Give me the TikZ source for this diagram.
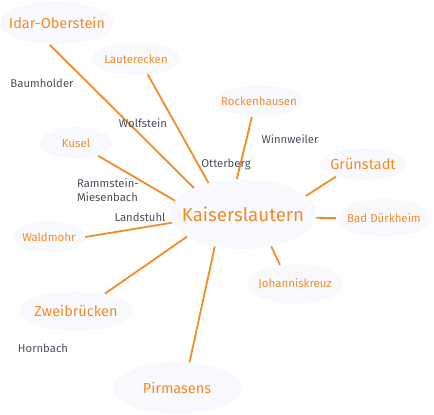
\documentclass[tikz,border=0pt]{standalone}
\usepackage{fontspec}
\setmainfont{Fira Sans}
\usetikzlibrary{shapes.geometric}
\definecolor{townorange}{RGB}{242,140,40}
\definecolor{bubble}{RGB}{247,249,252}
\definecolor{placegray}{RGB}{74,80,92}

\begin{document}
\begin{tikzpicture}[x=1pt, y=-1pt,
    town/.style={ellipse, fill=bubble, inner sep=0pt},
    hugetxt/.style={text=townorange, font=\fontsize{18.7}{22}\selectfont},
    bigtxt/.style={text=townorange, font=\fontsize{14.5}{17}\selectfont},
    smalltxt/.style={text=townorange, font=\fontsize{11.5}{14}\selectfont},
    place/.style={text=placegray, font=\fontsize{11.3}{14}\selectfont, inner sep=0pt},
    link/.style={townorange, line width=1.8pt}]
  \useasboundingbox (0,0) rectangle (434,415);
  % towns
  \node[town, minimum width=146pt, minimum height=70pt, label={[hugetxt]center:Kaiserslautern}] (ks) at (243,214) {};
  \node[town, minimum width=114pt, minimum height=44pt, label={[bigtxt]center:Idar-Oberstein}] (io) at (57,23) {};
  \node[town, minimum width=88pt, minimum height=32pt, label={[smalltxt]center:Lauterecken}] (lau) at (136,59) {};
  \node[town, minimum width=88pt, minimum height=32pt, label={[smalltxt]center:Rockenhausen}] (rock) at (259,101) {};
  \node[town, minimum width=86pt, minimum height=32pt, label={[bigtxt]center:Grünstadt}] (gru) at (363,164) {};
  \node[town, minimum width=96pt, minimum height=38pt, label={[smalltxt]center:Bad Dürkheim}] (bad) at (384,218) {};
  \node[town, minimum width=72pt, minimum height=32pt, label={[smalltxt]center:Kusel}] (kus) at (76,143) {};
  \node[town, minimum width=72pt, minimum height=32pt, label={[smalltxt]center:Waldmohr}] (wal) at (49,237) {};
  \node[town, minimum width=114pt, minimum height=40pt, label={[bigtxt]center:Zweibrücken}] (zwei) at (76,311) {};
  \node[town, minimum width=128pt, minimum height=52pt, label={[bigtxt]center:Pirmasens}] (pir) at (177,388) {};
  \node[town, minimum width=96pt, minimum height=40pt, label={[smalltxt]center:Johanniskreuz}] (joh) at (295,284) {};
  % connectors: angle at Kaiserslautern / angle at the other town
  \foreach \t/\a/\b in {io/152/252, lau/138/307, rock/100/246, gru/16/205, bad/-3/180,
                        kus/169/330, wal/187/0, zwei/202/31, pir/229/64, joh/311/128}
    \draw[link] (ks.\a) -- (\t.\b);
  % smaller places
  \node[place] (baum) at (42,83) {Baumholder};
  \node[place] (wolf) at (143,123) {Wolfstein};
  \node[place] (otter) at (226,164) {Otterberg};
  \node[place] (winn) at (290,139) {Winnweiler};
  \node[place, align=left] (ramm) at (108,190) {Rammstein-\\Miesenbach};
  \node[place] (land) at (140,217) {Landstuhl};
  \node[place] (horn) at (43,348) {Hornbach};
\end{tikzpicture}
\end{document}
